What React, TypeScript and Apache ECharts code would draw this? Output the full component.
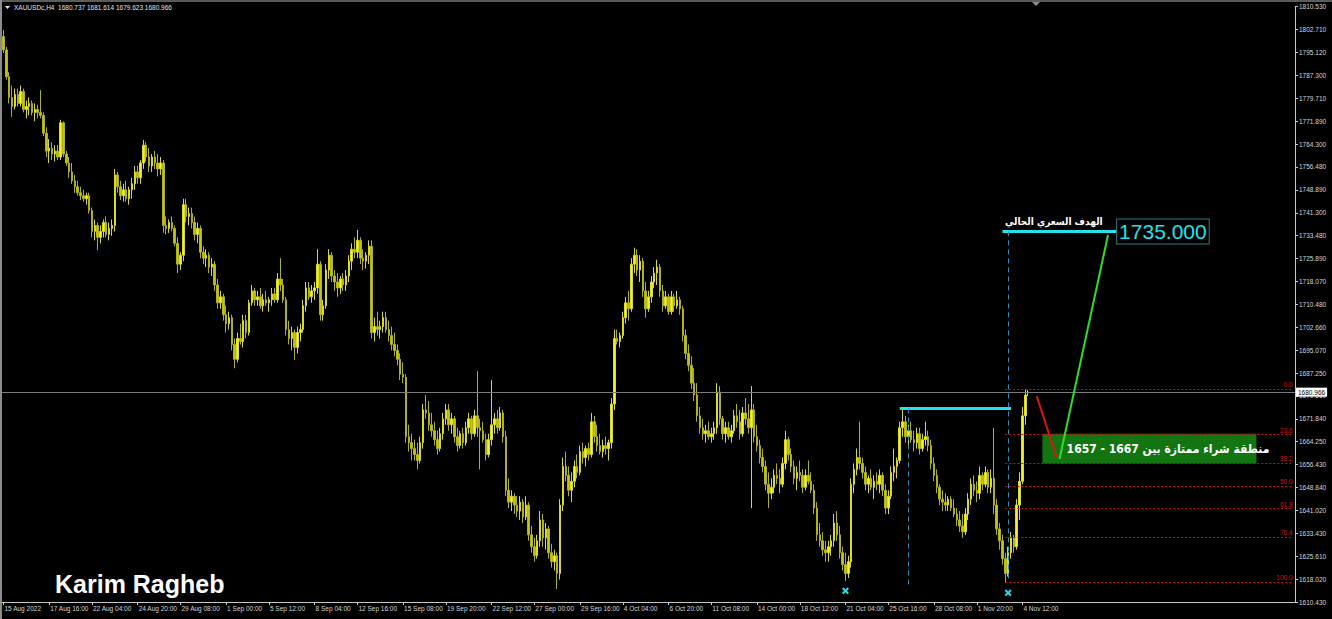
import React, { useEffect, useRef } from "react";
import * as echarts from "echarts";

// XAUUSDc H4, 15 Aug 2022 - 4 Nov 2022, bars as [open, high, low, close]
const week0 = [
  [1800.5, 1802.7, 1795, 1796], [1796, 1797, 1786, 1787], [1787, 1788.5, 1778, 1780], [1780, 1784, 1773.5, 1777],
  [1777, 1783, 1776, 1781], [1781, 1783, 1777, 1778], [1778, 1784, 1777, 1782], [1782, 1783, 1775, 1776],
  [1776, 1779, 1773, 1777], [1777, 1780, 1774, 1778], [1778, 1779, 1774, 1775], [1775, 1778, 1772, 1776],
  [1776, 1777.5, 1773, 1775], [1775, 1782.5, 1773, 1774], [1774, 1775, 1767, 1768], [1768, 1770, 1760, 1762],
  [1762, 1766, 1758, 1763], [1763, 1765, 1759, 1761], [1761, 1764, 1758.5, 1762], [1762, 1764, 1759, 1760],
  [1760, 1772.5, 1759, 1771.5], [1771.5, 1772, 1760, 1761], [1761, 1762, 1757, 1758], [1758, 1760, 1753, 1755],
  [1755, 1758, 1751, 1752], [1752, 1754, 1748, 1750], [1750, 1752, 1747, 1748], [1748, 1750, 1745.5, 1747],
  [1747, 1749, 1745, 1746], [1746, 1748, 1744, 1747],
];
const week1 = [
  [1747, 1748, 1741, 1742], [1742, 1743, 1733, 1735], [1735, 1739, 1732, 1737], [1737, 1738, 1728.7, 1733],
  [1733, 1737, 1731, 1735], [1735, 1739, 1733, 1738], [1738, 1740, 1733, 1734], [1734, 1738, 1732, 1736],
  [1736, 1739, 1733.5, 1737], [1737, 1756, 1735, 1754], [1754, 1755, 1748, 1750], [1750, 1752, 1745.5, 1747],
  [1747, 1751, 1745, 1749], [1749, 1752, 1745, 1746], [1746, 1750, 1744, 1749], [1749, 1753, 1746, 1751],
  [1751, 1757, 1749, 1755], [1755, 1757, 1751, 1753], [1753, 1759, 1751, 1758], [1758, 1765.7, 1756, 1764],
  [1764, 1765, 1758.5, 1760], [1760, 1763, 1755, 1757], [1757, 1761, 1755, 1760], [1760, 1762, 1756, 1758],
  [1758, 1761, 1753.5, 1756], [1756, 1760, 1754, 1758], [1758, 1759, 1734.5, 1737], [1737, 1740, 1734, 1736],
  [1736, 1739, 1734.5, 1738], [1738, 1740, 1735, 1736],
];
const week2 = [
  [1736, 1737, 1730, 1731], [1731, 1733, 1721, 1724], [1724, 1728, 1722, 1727], [1727, 1746, 1725, 1744],
  [1744, 1746, 1738, 1740], [1740, 1743, 1737, 1741], [1741, 1743, 1736, 1738], [1738, 1740, 1732, 1734],
  [1734, 1738, 1731, 1736], [1736, 1737, 1726, 1728], [1728, 1730, 1724, 1726], [1726, 1729, 1723, 1727],
  [1727, 1728, 1721, 1723], [1723, 1726, 1720, 1724], [1724, 1725, 1715, 1717], [1717, 1719, 1709, 1711],
  [1711, 1715, 1709, 1713], [1713, 1714, 1705, 1707], [1707, 1710, 1701, 1704], [1704, 1708, 1702, 1706],
  [1706, 1707, 1695, 1697], [1697, 1699, 1689, 1692], [1692, 1701, 1691, 1699], [1699, 1704, 1697, 1698],
  [1698, 1707, 1696, 1705], [1705, 1707, 1699, 1701], [1701, 1712, 1700, 1711], [1711, 1717, 1710, 1715],
  [1715, 1716, 1710, 1712], [1712, 1715, 1710, 1713],
];
const week3 = [
  [1713, 1716, 1709, 1710], [1710, 1714, 1708, 1712], [1712, 1715, 1710, 1711], [1711, 1713, 1708, 1712],
  [1712, 1716, 1710, 1714], [1714, 1716, 1711, 1712], [1712, 1721, 1711, 1719], [1719, 1726, 1715, 1717],
  [1717, 1719, 1711, 1712], [1712, 1713, 1700, 1702], [1702, 1705, 1697, 1699], [1699, 1703, 1695, 1701],
  [1701, 1702, 1691.8, 1696], [1696, 1703, 1694, 1701], [1701, 1704, 1698, 1702], [1702, 1712, 1701, 1710],
  [1710, 1718, 1708, 1716], [1716, 1718, 1712, 1713], [1713, 1717, 1711, 1715], [1715, 1718, 1712, 1716],
  [1716, 1729, 1714, 1724], [1724, 1725, 1705, 1707], [1707, 1712, 1705, 1710], [1710, 1724, 1709, 1722],
  [1722, 1729, 1719, 1727], [1727, 1728, 1718, 1720], [1720, 1722, 1715, 1718], [1718, 1721, 1713, 1716],
  [1716, 1720, 1714, 1719], [1719, 1721, 1715, 1717],
];
const week4 = [
  [1717, 1722, 1715, 1720], [1720, 1727, 1718, 1725], [1725, 1731, 1722, 1729], [1729, 1733, 1726, 1728],
  [1728, 1735.5, 1726, 1732], [1732, 1733, 1724, 1726], [1726, 1729, 1722, 1725], [1725, 1728, 1722.5, 1727],
  [1727, 1732, 1724, 1730], [1730, 1732, 1699, 1701], [1701, 1706, 1698, 1703], [1703, 1708, 1700, 1702],
  [1702, 1705, 1699, 1703], [1703, 1708, 1701, 1706], [1706, 1708, 1701, 1702], [1702, 1705, 1698, 1700],
  [1700, 1703, 1695, 1697], [1697, 1701, 1693, 1695], [1695, 1697, 1690, 1692], [1692, 1694, 1685, 1687],
  [1687, 1691, 1684, 1686], [1686, 1687, 1664, 1666], [1666, 1670, 1661, 1664], [1664, 1667, 1658, 1662],
  [1662, 1665, 1658, 1660], [1660, 1664, 1655, 1658], [1658, 1666, 1657, 1664], [1664, 1677, 1662, 1675],
  [1675, 1680, 1672, 1674], [1674, 1678, 1668, 1670],
];
const week5 = [
  [1670, 1674, 1666, 1668], [1668, 1671, 1663, 1665], [1665, 1668, 1660, 1662], [1662, 1669, 1661, 1667],
  [1667, 1674, 1665, 1672], [1672, 1677, 1670, 1675], [1675, 1677, 1668, 1670], [1670, 1674, 1667, 1672],
  [1672, 1673, 1664, 1666], [1666, 1669, 1661, 1663], [1663, 1668, 1662, 1667], [1667, 1669, 1662, 1664],
  [1664, 1671, 1663, 1669], [1669, 1674, 1667, 1672], [1672, 1673, 1665, 1667], [1667, 1675, 1666, 1673],
  [1673, 1688, 1666, 1669], [1669, 1672, 1655, 1668], [1668, 1671, 1664, 1665], [1665, 1667, 1658, 1660],
  [1660, 1667, 1659, 1665], [1665, 1685, 1663, 1670], [1670, 1674, 1667, 1672], [1672, 1675, 1667, 1669],
  [1669, 1676, 1668, 1674], [1674, 1675, 1664, 1666], [1666, 1668, 1646, 1648], [1648, 1652, 1642, 1644],
  [1644, 1648, 1641, 1646], [1646, 1647, 1640, 1643],
];
const week6 = [
  [1643, 1646, 1639, 1641], [1641, 1646, 1638, 1644], [1644, 1645, 1637, 1639], [1639, 1646, 1638, 1643],
  [1643, 1644, 1631, 1633], [1633, 1636, 1627, 1629], [1629, 1632, 1624, 1626], [1626, 1633, 1625, 1631],
  [1631, 1641, 1629, 1638], [1638, 1640, 1629, 1632], [1632, 1637, 1628, 1635], [1635, 1636, 1625, 1627],
  [1627, 1630, 1622, 1624], [1624, 1628, 1621, 1626], [1626, 1627, 1614.8, 1620], [1620, 1645, 1618, 1643],
  [1643, 1659, 1641, 1656], [1656, 1661, 1651, 1653], [1653, 1656, 1646, 1648], [1648, 1654, 1644, 1651],
  [1651, 1658, 1649, 1656], [1656, 1660, 1652, 1654], [1654, 1663, 1653, 1661], [1661, 1664, 1657, 1659],
  [1659, 1663, 1656, 1662], [1662, 1664, 1658, 1660], [1660, 1674, 1659, 1671], [1671, 1673, 1664, 1666],
  [1666, 1670, 1661, 1663], [1663, 1667, 1660, 1661],
];
const week7 = [
  [1661, 1665, 1659, 1663], [1663, 1666, 1660, 1662], [1662, 1665, 1658, 1664], [1664, 1679, 1662, 1677],
  [1677, 1702, 1675, 1699], [1699, 1702, 1697, 1698], [1698, 1701, 1696, 1700], [1700, 1708, 1699, 1706],
  [1706, 1713, 1704, 1711], [1711, 1715, 1705, 1709], [1709, 1726, 1708, 1724], [1724, 1729.5, 1721, 1727],
  [1727, 1729, 1720, 1722], [1722, 1727, 1718, 1725], [1725, 1726, 1713, 1715], [1715, 1718, 1706, 1709],
  [1709, 1715, 1708, 1713], [1713, 1720, 1711, 1718], [1718, 1723, 1716, 1721], [1721, 1725.5, 1717, 1723],
  [1723, 1724, 1713, 1715], [1715, 1717, 1708, 1710], [1710, 1715, 1709, 1713], [1713, 1714, 1707, 1708],
  [1708, 1715, 1707, 1713], [1713, 1714, 1708, 1710], [1710, 1715, 1709, 1712], [1712, 1713, 1707, 1709],
  [1709, 1710, 1698, 1700], [1700, 1702, 1692, 1694],
];
const week8 = [
  [1694, 1697, 1688, 1690], [1690, 1693, 1682, 1684], [1684, 1689, 1678, 1680], [1680, 1684, 1671, 1673],
  [1673, 1676, 1667, 1669], [1669, 1672, 1665, 1667], [1667, 1670, 1664, 1668], [1668, 1671, 1665, 1666],
  [1666, 1669, 1664, 1667], [1667, 1671, 1665, 1669], [1669, 1684, 1667, 1681], [1681, 1683, 1670, 1672],
  [1672, 1673, 1665, 1667], [1667, 1671, 1664, 1669], [1669, 1671, 1665, 1666], [1666, 1670, 1664, 1668],
  [1668, 1675, 1667, 1673], [1673, 1677, 1669, 1671], [1671, 1675, 1665, 1667], [1667, 1676, 1666, 1674],
  [1674, 1679, 1670, 1672], [1672, 1677, 1667, 1669], [1669, 1683, 1642, 1675], [1675, 1677, 1664, 1666],
  [1666, 1670, 1661, 1663], [1663, 1665, 1657, 1659], [1659, 1662, 1654, 1656], [1656, 1658, 1648, 1650],
  [1650, 1654, 1642, 1647], [1647, 1652, 1645, 1649],
];
const week9 = [
  [1649, 1655, 1647, 1653], [1653, 1657, 1650, 1652], [1652, 1655, 1647, 1650], [1650, 1659, 1649, 1657],
  [1657, 1668, 1655, 1665], [1665, 1666, 1658, 1660], [1660, 1662, 1654, 1656], [1656, 1658, 1650, 1652],
  [1652, 1656, 1648, 1654], [1654, 1658, 1651, 1653], [1653, 1655, 1647, 1649], [1649, 1655, 1648, 1653],
  [1653, 1658, 1650, 1651], [1651, 1654, 1647, 1648], [1648, 1650, 1640, 1642], [1642, 1644, 1631, 1633],
  [1633, 1637, 1629, 1631], [1631, 1634, 1626, 1628], [1628, 1631, 1624, 1627], [1627, 1631, 1624, 1629],
  [1629, 1633, 1626, 1631], [1631, 1640, 1629, 1637], [1637, 1641, 1631, 1633], [1633, 1636, 1625, 1627],
  [1627, 1629, 1621, 1623], [1623, 1627, 1617.5, 1620], [1620, 1626, 1618.5, 1624], [1624, 1652, 1622, 1650],
  [1650, 1657, 1647, 1655], [1655, 1662, 1653, 1659],
];
const week10 = [
  [1659, 1671, 1655, 1657], [1657, 1659, 1652, 1654], [1654, 1656, 1648, 1650], [1650, 1653, 1647, 1652],
  [1652, 1655, 1648, 1649], [1649, 1653, 1645, 1651], [1651, 1654, 1648, 1650], [1650, 1655, 1647, 1653],
  [1653, 1654, 1646, 1648], [1648, 1650, 1640, 1642], [1642, 1648, 1640, 1646], [1646, 1656, 1645, 1654],
  [1654, 1662, 1651, 1656], [1656, 1659, 1652, 1658], [1658, 1671, 1657, 1669], [1669, 1675.5, 1666, 1671],
  [1671, 1673, 1664, 1666], [1666, 1670, 1662, 1668], [1668, 1671, 1664, 1665], [1665, 1668, 1661, 1664],
  [1664, 1669, 1662, 1667], [1667, 1669, 1660, 1662], [1662, 1667, 1661, 1665], [1665, 1671, 1663, 1666],
  [1666, 1668, 1661, 1663], [1663, 1665, 1655, 1657], [1657, 1659, 1651, 1653], [1653, 1655, 1647, 1649],
  [1649, 1650, 1643, 1645], [1645, 1648, 1641, 1644],
];
const week11 = [
  [1644, 1647, 1641, 1643], [1643, 1646, 1641, 1645], [1645, 1646, 1641, 1642], [1642, 1645, 1639, 1640],
  [1640, 1642, 1636, 1638], [1638, 1641, 1634, 1636], [1636, 1640, 1632, 1634], [1634, 1642, 1633, 1640],
  [1640, 1647, 1638, 1645], [1645, 1652, 1643, 1650], [1650, 1653, 1646, 1648], [1648, 1651, 1644, 1647],
  [1647, 1656, 1645, 1653], [1653, 1654, 1648, 1650], [1650, 1656, 1649, 1654], [1654, 1655, 1647, 1649],
  [1649, 1655, 1647, 1652], [1652, 1669, 1640, 1643], [1643, 1645, 1633, 1635], [1635, 1637, 1628, 1631],
  [1631, 1633, 1623, 1625], [1625, 1627, 1617, 1620], [1620, 1629, 1619, 1627], [1627, 1634, 1625, 1632],
  [1632, 1633, 1627, 1629], [1629, 1645, 1628, 1643], [1643, 1654, 1638, 1651], [1651, 1676, 1650, 1673],
  [1673, 1682, 1670, 1680], [1680.737, 1681.614, 1679.623, 1680.966],
];

const xTickLabels = [
  "15 Aug 2022", "17 Aug 16:00", "22 Aug 04:00", "24 Aug 20:00", "29 Aug 08:00", "1 Sep 00:00",
  "5 Sep 12:00", "8 Sep 04:00", "12 Sep 16:00", "15 Sep 08:00", "19 Sep 20:00", "22 Sep 12:00",
  "27 Sep 00:00", "29 Sep 16:00", "4 Oct 04:00", "6 Oct 20:00", "11 Oct 08:00", "14 Oct 00:00",
  "18 Oct 12:00", "21 Oct 04:00", "25 Oct 16:00", "28 Oct 08:00", "1 Nov 20:00", "4 Nov 12:00",
];
const yTickLabels = [
  "1610.430", "1618.020", "1625.610", "1633.430", "1641.020", "1648.840", "1656.430", "1664.250",
  "1671.840", "1679.660", "1687.250", "1695.070", "1702.660", "1710.480", "1718.070", "1725.890",
  "1733.480", "1741.300", "1748.890", "1756.480", "1764.300", "1771.890", "1779.710", "1787.300",
  "1795.120", "1802.710", "1810.530",
];
const fibLevels = [0, 23.6, 38.2, 50, 61.8, 76.4, 100];
const fibLabels = ["0.0", "23.6", "38.2", "50.0", "61.8", "76.4", "100.0"];
const fibHigh = 1682;
const fibLow = 1617;
const lastPrice = 1680.966;
const targetPrice = 1735;
const breakoutPrice = 1675.5;
const zoneTop = 1667;
const zoneBottom = 1657;
const headerText = "XAUUSDc,H4  1680.737 1681.614 1679.623 1680.966";

const MONTHS = ["Jan", "Feb", "Mar", "Apr", "May", "Jun", "Jul", "Aug", "Sep", "Oct", "Nov", "Dec"];
const TOTAL_SLOTS = 453;

function buildCategories(total: number): string[] {
  const out: string[] = [];
  const d = new Date(Date.UTC(2022, 7, 15));
  while (out.length < total) {
    const wd = d.getUTCDay();
    if (wd !== 0 && wd !== 6) {
      for (let h = 0; h < 24 && out.length < total; h += 4) {
        out.push(`${d.getUTCDate()} ${MONTHS[d.getUTCMonth()]} ${String(h).padStart(2, "0")}:00`);
      }
    }
    d.setUTCDate(d.getUTCDate() + 1);
  }
  out[0] = "15 Aug 2022";
  return out;
}

const FONT = "Liberation Sans";
const AR_FONT = '"DejaVu Sans Condensed", "Liberation Sans", "DejaVu Sans"';
const AXIS_COLOR = "#c8c8c8";
const LABEL_COLOR = "#d6d6d6";
const CYAN = "#22e2ea";
const DASH_BLUE = "#2f8fc0";

export default function App() {
  const ref = useRef<HTMLDivElement>(null);
  useEffect(() => {
    document.body.style.margin = "0";
    document.body.style.background = "#000";
    if (!ref.current) return;
    const chart = echarts.init(ref.current, undefined, { renderer: "svg" });
    const categories = buildCategories(TOTAL_SLOTS);
    const bars = [
      ...week0, ...week1, ...week2, ...week3, ...week4, ...week5,
      ...week6, ...week7, ...week8, ...week9, ...week10, ...week11,
    ].map(([o, h, l, c]) => [o, c, l, h]);
    const lastIdx = categories.length - 1;
    const tickSet = new Set(xTickLabels);
    const tickFn = (_i: number, v: string) => tickSet.has(v);

    // fib anchored at the low bar of 3 Nov
    let fibStart = 0;
    let lowVal = Infinity;
    bars.forEach((b, i) => {
      if (i > 330 && b[2] < lowVal) { lowVal = b[2]; fibStart = i; }
    });

    const fibLines = fibLevels.map((lvl, k) => {
      const p = fibHigh - (lvl / 100) * (fibHigh - fibLow);
      const ls = { color: "#c21414", width: 1, type: [2, 2] };
      const lb = {
        show: true, position: "insideEndTop", formatter: fibLabels[k], color: "#c81818",
        fontSize: 6.5, fontFamily: FONT, distance: 1,
      };
      return [
        { coord: [fibStart, p], lineStyle: ls, label: lb },
        { coord: [lastIdx, p], lineStyle: ls, label: lb },
      ];
    });

    const seg = (a: [number, number], b: [number, number], ls: any) => [
      { coord: a, lineStyle: ls, label: { show: false } },
      { coord: b, lineStyle: ls, label: { show: false } },
    ];

    const option: any = {
      animation: false,
      backgroundColor: "#000",
      grid: { left: 2.07, right: 37, top: 6.7, bottom: 17 },
      xAxis: {
        type: "category",
        data: categories,
        boundaryGap: true,
        axisLine: { show: true, lineStyle: { color: AXIS_COLOR, width: 1 } },
        axisTick: { show: true, alignWithLabel: true, interval: tickFn, length: 3, lineStyle: { color: AXIS_COLOR } },
        axisLabel: {
          show: true, interval: tickFn, align: "left", color: LABEL_COLOR, fontSize: 6.5,
          fontFamily: FONT, margin: 3, padding: [0, 0, 0, 1],
        },
        splitLine: { show: false },
      },
      yAxis: [
        { type: "value", min: 1610.43, max: 1810.53, show: false, splitLine: { show: false } },
        {
          type: "category",
          data: yTickLabels,
          position: "right",
          boundaryGap: false,
          axisLine: { show: true, lineStyle: { color: AXIS_COLOR, width: 1 } },
          axisTick: { show: true, length: 3, lineStyle: { color: AXIS_COLOR } },
          axisLabel: { interval: 0, color: LABEL_COLOR, fontSize: 6.5, fontFamily: FONT, margin: 4 },
          splitLine: { show: false },
        },
      ],
      series: [
        {
          type: "candlestick",
          yAxisIndex: 0,
          data: bars,
          barWidth: 2,
          itemStyle: {
            color: "#f2f232", color0: "#c4c41e", borderColor: "#dada26", borderColor0: "#b0b01a", borderWidth: 1,
          },
          markArea: {
            silent: true,
            itemStyle: { color: "#127512", opacity: 1 },
            label: { show: false },
            data: [[{ coord: [364, zoneTop] }, { coord: [439, zoneBottom] }]],
          },
          markLine: {
            silent: true,
            symbol: ["none", "none"],
            label: { show: false },
            data: [
              {
                yAxis: lastPrice,
                lineStyle: { color: "#7c7c7c", width: 1, type: "solid" },
                label: {
                  show: true, position: "end", formatter: "1680.966", backgroundColor: "#ffffff", color: "#000",
                  fontSize: 6.5, fontFamily: FONT, padding: [1, 2, 1, 2], distance: 1,
                },
              },
              ...fibLines,
              seg([314, breakoutPrice], [353, breakoutPrice], { color: CYAN, width: 3, type: "solid" }),
              seg([350, targetPrice], [390, targetPrice], { color: CYAN, width: 3, type: "solid" }),
              seg([317, breakoutPrice], [317, 1615], { color: DASH_BLUE, width: 1, type: [5, 4] }),
              seg([352, targetPrice], [352, 1617], { color: DASH_BLUE, width: 1, type: [5, 4] }),
              seg([362, 1679.6], [369, 1659], { color: "#e01414", width: 2, type: "solid" }),
              seg([370, 1658.5], [387, 1733.8], { color: "#28e028", width: 2, type: "solid" }),
            ],
          },
          markPoint: {
            silent: true,
            data: [
              {
                coord: [408, 1662], symbol: "rect", symbolSize: 1, itemStyle: { color: "rgba(0,0,0,0)" },
                label: {
                  show: true, position: "inside", formatter: "منطقة شراء ممتازة بين 1667 - 1657",
                  color: "#ffffff", fontSize: 12, fontWeight: "bold", fontFamily: AR_FONT,
                },
              },
              {
                coord: [368, 1738.4], symbol: "rect", symbolSize: 1, itemStyle: { color: "rgba(0,0,0,0)" },
                label: {
                  show: true, position: "inside", formatter: "الهدف السعري الحالي",
                  color: "#ffffff", fontSize: 10, fontWeight: "bold", fontFamily: AR_FONT,
                },
              },
              {
                coord: [390, targetPrice], symbol: "rect", symbolSize: 1, itemStyle: { color: "rgba(0,0,0,0)" },
                label: {
                  show: true, position: "right", distance: 0, formatter: "1735.000", color: CYAN,
                  fontSize: 21, fontFamily: FONT, backgroundColor: "#000", borderColor: "#2d7c80",
                  borderWidth: 1, padding: [2, 2, 1, 2],
                },
              },
              {
                coord: [295, 1614.2], symbol: "path://M0,2L2,0L5,3L8,0L10,2L7,5L10,8L8,10L5,7L2,10L0,8L3,5Z",
                symbolSize: 7, itemStyle: { color: CYAN }, label: { show: false },
              },
              {
                coord: [352, 1613.5], symbol: "path://M0,2L2,0L5,3L8,0L10,2L7,5L10,8L8,10L5,7L2,10L0,8L3,5Z",
                symbolSize: 7, itemStyle: { color: CYAN }, label: { show: false },
              },
            ],
          },
        },
      ],
      graphic: [
        { type: "rect", left: 0, top: 0, shape: { width: 1332, height: 2 }, style: { fill: "#5c5c5c" }, silent: true },
        { type: "rect", left: 0, top: 0, shape: { width: 2, height: 619 }, style: { fill: "#8c8c8c" }, silent: true },
        {
          type: "polygon", silent: true,
          shape: { points: [[5, 6], [10, 6], [7.5, 9]] }, style: { fill: "#e8e8e8" },
        },
        {
          type: "polygon", silent: true,
          shape: { points: [[1032, 2], [1040, 2], [1036, 6]] }, style: { fill: "#8a8a8a" },
        },
        {
          type: "text", left: 14, top: 4, silent: true,
          style: { text: headerText, fill: "#e4e4e4", fontSize: 6.5, fontFamily: FONT },
        },
        {
          type: "text", left: 55, top: 571, silent: true,
          style: { text: "Karim Ragheb", fill: "#ffffff", fontSize: 25, fontWeight: "bold", fontFamily: FONT },
        },
      ],
    };
    chart.setOption(option);
    return () => chart.dispose();
  }, []);
  return <div ref={ref} style={{ width: 1332, height: 619, background: "#000" }} />;
}
